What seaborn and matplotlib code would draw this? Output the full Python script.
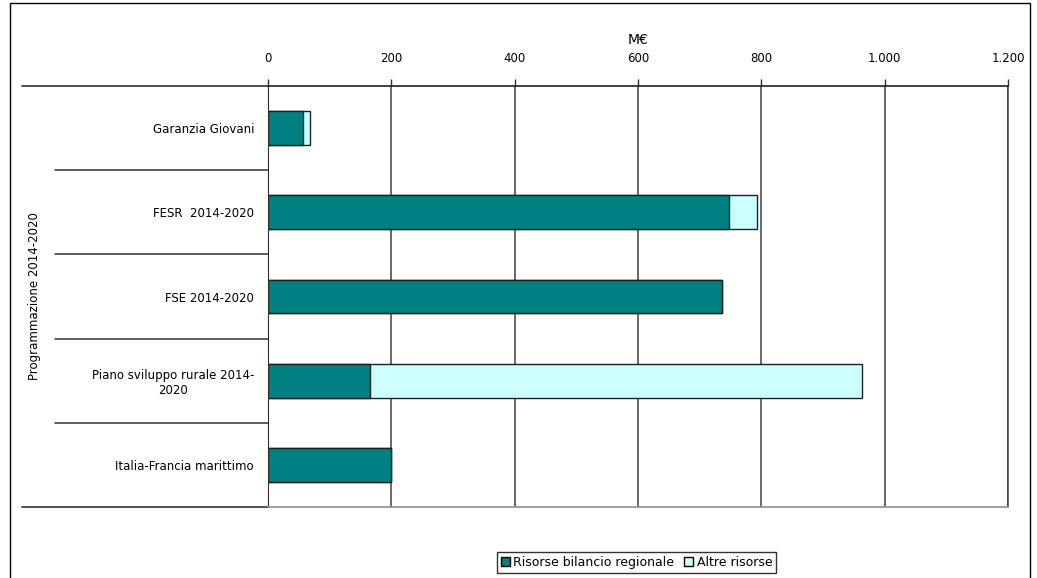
import matplotlib
matplotlib.use("Agg")
import matplotlib.pyplot as plt
import seaborn as sns
import pandas as pd
from matplotlib.lines import Line2D
from matplotlib.patches import Rectangle, Patch

# Data (M€)
categories = ["Garanzia Giovani", "FESR  2014-2020", "FSE 2014-2020",
              "Piano sviluppo rurale 2014-\n2020", "Italia-Francia marittimo"]
risorse_regionali = [57, 747, 736, 165, 200]
altre_risorse = [11, 46, 0, 799, 0]
xticks = [0, 200, 400, 600, 800, 1000, 1200]
xtick_labels = ["0", "200", "400", "600", "800", "1.000", "1.200"]

df = pd.DataFrame({"categoria": categories,
                   "regionale": risorse_regionali,
                   "altre": altre_risorse})
df["totale"] = df["regionale"] + df["altre"]

sns.set_style("white")
plt.rcParams["font.family"] = ["DejaVu Sans"]
plt.rcParams["text.color"] = "black"
plt.rcParams["xtick.color"] = "black"
plt.rcParams["ytick.color"] = "black"
plt.rcParams["axes.labelcolor"] = "black"

teal = "#008080"
light = "#CCFFFF"

fig = plt.figure(figsize=(10.37, 5.78), dpi=100)
ax = fig.add_axes([0.2584, 0.1228, 0.7136, 0.7284])

# stacked bars: total first, regional on top
sns.barplot(data=df, x="totale", y="categoria", color=light, edgecolor="#202020",
            linewidth=1.0, width=0.4, saturation=1, ax=ax)
sns.barplot(data=df, x="regionale", y="categoria", color=teal, edgecolor="#202020",
            linewidth=1.0, width=0.4, saturation=1, ax=ax)

ax.set_xlim(0, 1200)
ax.set_ylim(4.5, -0.5)
ax.xaxis.tick_top()
ax.xaxis.set_label_position("top")
ax.set_xticks(xticks)
ax.set_xticklabels(xtick_labels, fontsize=8.5)
ax.set_xlabel("M€", fontsize=10, labelpad=6)
ax.set_ylabel("")
ax.tick_params(axis="x", direction="out", length=5, width=1, color="#303030", pad=10)
ax.tick_params(axis="y", length=0, pad=10, labelsize=8.5)
for lbl in ax.get_yticklabels():
    lbl.set_multialignment("center")

ax.set_axisbelow(True)
ax.grid(axis="x", color="#404040", linewidth=1.1)
ax.grid(axis="y", visible=False)
# last gridline at the right edge
ax.axvline(1200, color="#404040", linewidth=1.1, clip_on=False, zorder=0.5)

ax.spines["right"].set_visible(False)
ax.spines["left"].set_color("#303030")
ax.spines["top"].set_color("#202020")
ax.spines["top"].set_linewidth(1.2)
ax.spines["bottom"].set_color("#909090")
ax.spines["bottom"].set_linewidth(1.2)

# category separators extending to the left
trans = ax.get_yaxis_transform()
for y in [0.5, 1.5, 2.5, 3.5]:
    ax.add_line(Line2D([-0.288, 0], [y, y], transform=trans, color="#303030",
                       lw=1.1, clip_on=False))
for y in [-0.5, 4.5]:
    ax.add_line(Line2D([-0.332, 0], [y, y], transform=trans, color="#303030",
                       lw=1.2, clip_on=False))

ax.text(-0.315, 0.5, "Programmazione 2014-2020", transform=ax.transAxes,
        rotation=90, ha="center", va="center", fontsize=8.5)

# outer border
fig.add_artist(Rectangle((0.0096, -0.01), 0.984, 1.005, transform=fig.transFigure,
                         fill=False, edgecolor="black", lw=1.0))

handles = [Patch(facecolor=teal, edgecolor="black", label="Risorse bilancio regionale"),
           Patch(facecolor=light, edgecolor="black", label="Altre risorse")]
leg = fig.legend(handles=handles, loc="center", bbox_to_anchor=(0.614, 0.027),
                 ncol=2, fontsize=9, frameon=True, fancybox=False,
                 handlelength=0.7, handleheight=0.7, handletextpad=0.3,
                 columnspacing=0.8, borderpad=0.3)
leg.get_frame().set_edgecolor("black")
leg.get_frame().set_linewidth(1.0)

fig.savefig("out.png", dpi=100)
